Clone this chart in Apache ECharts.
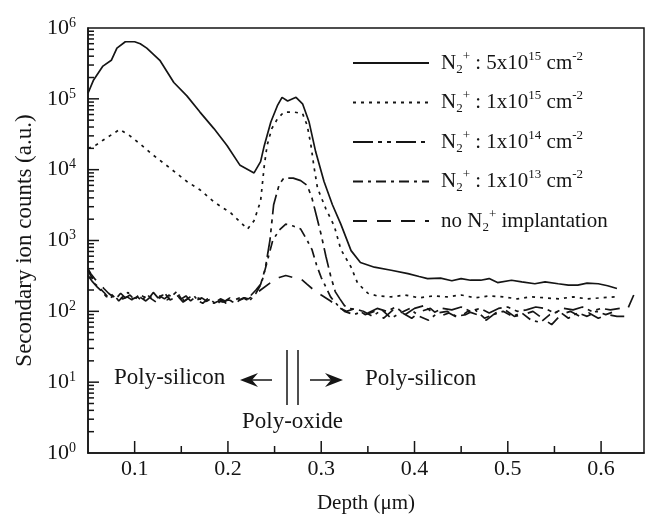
<!DOCTYPE html>
<html>
<head>
<meta charset="utf-8">
<script src="https://cdn.jsdelivr.net/npm/echarts@6/dist/echarts.min.js"></script>
<style>
html,body{margin:0;padding:0;background:#fff;}
#chart{width:646px;height:519px;}
</style>
</head>
<body>
<div id="chart"></div>
<script>
// depth (um) / secondary ion counts
var dose5e15 = [[0.05,1.2e5],[0.056,1.85e5],[0.066,2.9e5],[0.075,3.5e5],[0.081,5.2e5],[0.09,6.4e5],[0.1,6.4e5],[0.106,6.0e5],
  [0.113,5.2e5],[0.127,3.5e5],[0.142,1.7e5],[0.156,1.1e5],[0.17,6.5e4],[0.185,3.8e4],[0.199,2.2e4],[0.213,1.15e4],
  [0.228,9.0e3],[0.235,1.3e4],[0.239,2.2e4],[0.246,4.7e4],[0.253,8.0e4],[0.258,1.05e5],[0.264,9.3e4],[0.273,1.05e5],
  [0.28,8.5e4],[0.287,4.7e4],[0.294,1.8e4],[0.303,6.8e3],[0.312,3.2e3],[0.321,1.7e3],[0.332,7.2e2],[0.342,4.9e2],
  [0.357,4.2e2],[0.375,3.8e2],[0.393,3.4e2],[0.405,3.1e2],[0.414,2.9e2],[0.428,2.95e2],[0.44,2.7e2],[0.45,2.9e2],
  [0.46,2.75e2],[0.471,2.75e2],[0.48,2.9e2],[0.489,2.55e2],[0.504,2.75e2],[0.515,2.6e2],[0.529,2.45e2],[0.54,2.6e2],
  [0.554,2.45e2],[0.565,2.35e2],[0.575,2.35e2],[0.585,2.5e2],[0.597,2.45e2],[0.607,2.3e2],[0.617,2.1e2]];

var dose1e15 = [[0.05,2.0e4],[0.058,2.2e4],[0.066,2.6e4],[0.075,3.1e4],[0.084,3.7e4],[0.095,3.0e4],[0.106,2.3e4],
  [0.12,1.6e4],[0.138,1.05e4],[0.156,6.8e3],[0.17,5.2e3],[0.185,3.5e3],[0.203,2.45e3],[0.221,1.45e3],[0.228,1.9e3],
  [0.235,3.6e3],[0.239,1.15e4],[0.242,2.2e4],[0.247,3.8e4],[0.253,5.2e4],[0.26,6.5e4],[0.271,6.5e4],[0.28,6.2e4],
  [0.285,4.2e4],[0.289,2.2e4],[0.292,1.15e4],[0.296,5.5e3],[0.305,2.8e3],[0.314,1.6e3],[0.321,7.5e2],[0.332,4.2e2],
  [0.339,2.5e2],[0.35,1.8e2],[0.36,1.65e2],[0.375,1.6e2],[0.39,1.7e2],[0.405,1.55e2],[0.42,1.65e2],[0.435,1.6e2],
  [0.45,1.7e2],[0.465,1.55e2],[0.48,1.65e2],[0.495,1.6e2],[0.51,1.5e2],[0.525,1.6e2],[0.54,1.55e2],[0.555,1.5e2],
  [0.57,1.6e2],[0.585,1.5e2],[0.6,1.55e2],[0.615,1.6e2]];

var dose1e14 = [[0.05,3.2e2],[0.055,2.6e2],[0.06,2.2e2],[0.065,1.9e2],[0.07,1.6e2],[0.075,1.75e2],[0.08,1.5e2],
  [0.085,1.8e2],[0.09,1.55e2],[0.095,1.7e2],[0.1,1.45e2],[0.105,1.75e2],[0.11,1.6e2],[0.115,1.5e2],[0.12,1.85e2],
  [0.125,1.55e2],[0.13,1.7e2],[0.135,1.45e2],[0.14,1.65e2],[0.145,1.9e2],[0.15,1.5e2],[0.155,1.65e2],[0.16,1.4e2],
  [0.165,1.6e2],[0.17,1.5e2],[0.175,1.35e2],[0.18,1.45e2],[0.185,1.3e2],[0.19,1.4e2],[0.195,1.35e2],[0.2,1.45e2],
  [0.205,1.4e2],[0.21,1.5e2],[0.215,1.6e2],[0.22,1.45e2],[0.225,1.7e2],[0.23,2.0e2],[0.235,2.4e2],[0.24,4.0e2],
  [0.245,1.0e3],[0.249,3.2e3],[0.255,6.2e3],[0.26,7.6e3],[0.27,7.6e3],[0.278,7.0e3],[0.285,6.0e3],[0.29,4.0e3],
  [0.295,2.2e3],[0.3,1.2e3],[0.305,6.0e2],[0.31,3.2e2],[0.315,1.9e2],[0.32,1.5e2],[0.325,1.2e2],[0.33,1.1e2],
  [0.34,1.05e2],[0.35,95],[0.36,1.1e2],[0.37,1.0e2],[0.38,1.15e2],[0.39,90],[0.4,1.1e2],[0.41,1.2e2],[0.42,95],
  [0.43,1.1e2],[0.44,1.05e2],[0.45,1.15e2],[0.46,1.0e2],[0.47,1.1e2],[0.48,95],[0.49,1.1e2],[0.5,1.15e2],[0.51,1.0e2],
  [0.52,1.05e2],[0.53,1.15e2],[0.54,1.1e2],[0.55,95],[0.56,1.1e2],[0.57,1.05e2],[0.58,1.15e2],[0.59,1.0e2],
  [0.6,1.1e2],[0.61,1.05e2],[0.62,1.1e2]];

var dose1e13 = [[0.05,3.8e2],[0.054,3.0e2],[0.058,2.4e2],[0.063,2.1e2],[0.068,1.8e2],[0.073,1.5e2],[0.078,1.7e2],
  [0.083,1.4e2],[0.088,1.65e2],[0.093,1.85e2],[0.098,1.5e2],[0.103,1.6e2],[0.108,1.4e2],[0.113,1.75e2],[0.118,1.5e2],
  [0.123,1.35e2],[0.128,1.6e2],[0.133,1.75e2],[0.138,1.45e2],[0.143,1.55e2],[0.148,1.7e2],[0.153,1.4e2],[0.158,1.55e2],
  [0.163,1.7e2],[0.168,1.4e2],[0.173,1.3e2],[0.178,1.5e2],[0.183,1.4e2],[0.188,1.25e2],[0.193,1.45e2],[0.198,1.3e2],
  [0.203,1.4e2],[0.208,1.3e2],[0.213,1.45e2],[0.218,1.55e2],[0.223,1.4e2],[0.23,1.8e2],[0.236,2.5e2],[0.242,5.0e2],
  [0.248,1.0e3],[0.255,1.4e3],[0.262,1.7e3],[0.27,1.6e3],[0.278,1.45e3],[0.285,1.0e3],[0.29,7.5e2],[0.295,4.5e2],
  [0.3,3.0e2],[0.305,2.2e2],[0.31,1.6e2],[0.318,1.2e2],[0.325,1.0e2],[0.335,90],[0.345,1.0e2],[0.355,85],[0.365,1.05e2],
  [0.375,80],[0.385,95],[0.395,1.1e2],[0.405,85],[0.415,75],[0.425,95],[0.435,1.0e2],[0.445,85],[0.455,90],
  [0.465,1.05e2],[0.475,80],[0.485,90],[0.495,1.0e2],[0.505,85],[0.515,95],[0.525,75],[0.535,70],[0.545,90],
  [0.555,1.0e2],[0.565,80],[0.575,95],[0.585,85],[0.595,1.0e2],[0.605,90],[0.615,1.0e2]];

var noImplant = [[0.05,4.0e2],[0.053,3.4e2],[0.057,2.9e2],[0.062,2.5e2],[0.067,2.1e2],[0.072,1.8e2],[0.077,1.6e2],
  [0.082,1.75e2],[0.087,1.5e2],[0.092,1.6e2],[0.097,1.45e2],[0.102,1.7e2],[0.107,1.55e2],[0.112,1.4e2],[0.117,1.6e2],
  [0.122,1.45e2],[0.127,1.65e2],[0.132,1.5e2],[0.137,1.7e2],[0.142,1.45e2],[0.147,1.6e2],[0.152,1.35e2],[0.157,1.5e2],
  [0.162,1.6e2],[0.167,1.45e2],[0.172,1.55e2],[0.177,1.4e2],[0.182,1.5e2],[0.187,1.35e2],[0.192,1.5e2],[0.197,1.4e2],
  [0.202,1.55e2],[0.207,1.35e2],[0.212,1.45e2],[0.217,1.55e2],[0.222,1.5e2],[0.228,1.7e2],[0.235,2.0e2],
  [0.245,2.5e2],[0.255,3.0e2],[0.262,3.2e2],[0.27,3.0e2],[0.278,2.9e2],[0.285,2.4e2],[0.292,2.0e2],[0.3,1.7e2],
  [0.31,1.4e2],[0.318,1.15e2],[0.327,1.0e2],[0.337,1.1e2],[0.347,90],[0.357,1.0e2],[0.367,80],[0.377,1.05e2],
  [0.387,95],[0.397,80],[0.407,1.0e2],[0.417,1.1e2],[0.427,85],[0.437,95],[0.447,80],[0.457,1.0e2],[0.467,90],
  [0.477,75],[0.487,95],[0.497,1.05e2],[0.507,85],[0.517,90],[0.527,1.0e2],[0.537,80],[0.547,65],[0.557,90],
  [0.567,1.0e2],[0.577,85],[0.587,95],[0.597,80],[0.607,90],[0.617,85],[0.625,85],[0.635,1.7e2]];

var seriesNames = ['d5e15', 'd1e15', 'd1e14', 'd1e13', 'none'];
var legendLabels = {
  d5e15: '{pad|}{t|N}{sub|2}{sup|+}{t| : 5x10}{sup|15}{t| cm}{sup|-2}',
  d1e15: '{pad|}{t|N}{sub|2}{sup|+}{t| : 1x10}{sup|15}{t| cm}{sup|-2}',
  d1e14: '{pad|}{t|N}{sub|2}{sup|+}{t| : 1x10}{sup|14}{t| cm}{sup|-2}',
  d1e13: '{pad|}{t|N}{sub|2}{sup|+}{t| : 1x10}{sup|13}{t| cm}{sup|-2}',
  none: '{pad|}{t|no N}{sub|2}{sup|+}{t| implantation}'
};
var dashes = ['solid', [3, 5], [20, 5, 4, 5, 4, 5], [10, 5, 3, 5], [14, 10]];
var xMajor = [0.1, 0.2, 0.3, 0.4, 0.5, 0.6];
var xMinor = [0.15, 0.25, 0.35, 0.45, 0.55];
var yMajor = [1, 10, 100, 1000, 10000, 100000, 1000000];
var yMinor = [];
[1, 10, 100, 1000, 10000, 100000].forEach(function (d) {
  for (var k = 2; k <= 9; k++) yMinor.push(k * d);
});

var serif = 'Liberation Serif';
var ink = '#151515';
var allData = [dose5e15, dose1e15, dose1e14, dose1e13, noImplant];

var annotations = [
  {type: 'text', left: 114, top: 366, style: {text: 'Poly-silicon', font: '23px "Liberation Serif"', fill: ink}},
  {type: 'line', shape: {x1: 272, y1: 380, x2: 248, y2: 380}, style: {stroke: ink, lineWidth: 1.5}},
  {type: 'polygon', shape: {points: [[240, 380], [258, 373], [252, 380], [258, 387]]}, style: {fill: ink}},
  {type: 'line', shape: {x1: 287, y1: 350, x2: 287, y2: 405}, style: {stroke: ink, lineWidth: 1.5}},
  {type: 'line', shape: {x1: 298, y1: 350, x2: 298, y2: 405}, style: {stroke: ink, lineWidth: 1.5}},
  {type: 'line', shape: {x1: 310, y1: 380, x2: 335, y2: 380}, style: {stroke: ink, lineWidth: 1.5}},
  {type: 'polygon', shape: {points: [[343, 380], [325, 373], [331, 380], [325, 387]]}, style: {fill: ink}},
  {type: 'text', left: 365, top: 367, style: {text: 'Poly-silicon', font: '23px "Liberation Serif"', fill: ink}},
  {type: 'text', left: 242, top: 410, style: {text: 'Poly-oxide', font: '23px "Liberation Serif"', fill: ink}}
];

var myChart = echarts.init(document.getElementById('chart'));
var option = {
  animation: false,
  backgroundColor: '#fff',
  grid: {left: 88, top: 28, right: 2, bottom: 61, show: true, borderColor: ink, borderWidth: 1.5},
  legend: {
    orient: 'vertical', left: 347, top: 45,
    itemWidth: 76, itemHeight: 14, itemGap: 13.5,
    selectedMode: false,
    data: seriesNames,
    itemStyle: {opacity: 0},
    formatter: function (n) { return legendLabels[n]; },
    textStyle: {
      color: ink,
      rich: {
        pad: {width: 7},
        t: {fontFamily: serif, fontSize: 21, color: ink, lineHeight: 26},
        sup: {fontFamily: serif, fontSize: 13, color: ink, lineHeight: 13, verticalAlign: 'top'},
        sub: {fontFamily: serif, fontSize: 13, color: ink, lineHeight: 13, verticalAlign: 'bottom'}
      }
    }
  },
  xAxis: {
    type: 'value', min: 0.05, max: 0.646,
    name: 'Depth (\u03bcm)', nameLocation: 'middle', nameGap: 40,
    nameTextStyle: {fontFamily: serif, fontSize: 21, color: ink},
    axisLine: {lineStyle: {color: ink, width: 1.5}},
    axisTick: {show: false},
    axisLabel: {customValues: xMajor, margin: 5, fontFamily: serif, fontSize: 22, color: ink,
      formatter: function (v) { return v.toFixed(1); }},
    splitLine: {show: false}
  },
  yAxis: {
    type: 'log', logBase: 10, min: 1, max: 1e6,
    name: 'Secondary ion counts (a.u.)', nameLocation: 'middle', nameGap: 52,
    nameTextStyle: {fontFamily: serif, fontSize: 23, color: ink},
    axisLine: {show: true, lineStyle: {color: ink, width: 1.5}},
    axisTick: {show: false},
    axisLabel: {
      customValues: yMajor, margin: 12,
      formatter: function (v) { return '{b|10}{e|' + Math.round(Math.log10(v)) + '}'; },
      rich: {
        b: {fontFamily: serif, fontSize: 22, color: ink, lineHeight: 24},
        e: {fontFamily: serif, fontSize: 14, color: ink, lineHeight: 14, verticalAlign: 'top'}
      }
    },
    splitLine: {show: false}
  },
  series: seriesNames.map(function (n, i) {
    return {
      name: n, type: 'line', data: allData[i],
      symbol: 'none', smooth: false,
      itemStyle: {color: ink},
      lineStyle: {color: ink, width: 1.7, type: dashes[i]}
    };
  }),
  graphic: annotations
};
myChart.setOption(option);

// inward tick marks: positions come from the axes' scales via convertToPixel
function tickLines(values, isX, len) {
  return values.map(function (v) {
    var p = myChart.convertToPixel({gridIndex: 0}, isX ? [v, 1] : [0.05, v]);
    var shape = isX ? {x1: p[0], y1: p[1], x2: p[0], y2: p[1] - len}
                    : {x1: p[0], y1: p[1], x2: p[0] + len, y2: p[1]};
    return {type: 'line', silent: true, shape: shape, style: {stroke: ink, lineWidth: 1.5}};
  });
}
var tickGraphics = tickLines(xMajor, true, 12).concat(
  tickLines(xMinor, true, 7),
  tickLines(yMajor.slice(1, 6), false, 11),
  tickLines(yMinor, false, 6));
myChart.setOption({graphic: annotations.concat(tickGraphics)});
</script>
</body>
</html>
